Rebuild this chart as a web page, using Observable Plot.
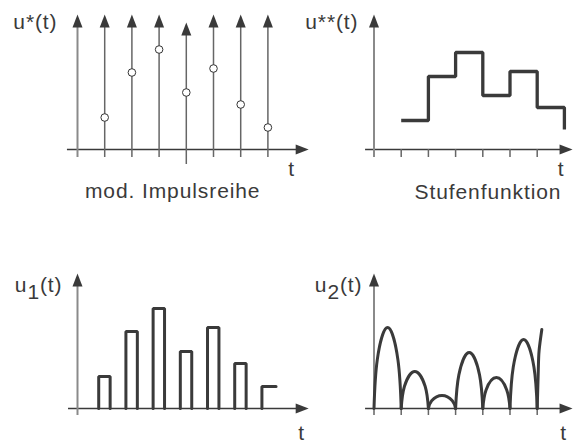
<!DOCTYPE html>
<html><head><meta charset="utf-8">
<script src="https://cdn.jsdelivr.net/npm/d3@7"></script>
<script src="https://cdn.jsdelivr.net/npm/@observablehq/plot@0.6"></script>
<style>
html,body{margin:0;padding:0;background:#fff;}
#chart{position:relative;width:574px;height:443px;overflow:hidden;background:#fff;}
#chart svg{position:absolute;left:0;top:0;}
</style></head><body><div id="chart"></div>
<script>
// ---------- data ----------
const sampleTimes  = [1, 2, 3, 4, 5, 6, 7];
const sampleValues = [32, 77, 100, 57, 81, 45, 22];   // u*(t) circles, u1(t) pulse heights
const holdValues   = [29, 73, 97, 54, 78, 42, 20];    // u**(t) step function
const tickTimes    = [1, 2, 3, 4, 5, 6];
const archStarts   = [0, 1, 2, 3, 4, 5];
const archPeaks    = [81, 37, 13, 56, 31, 69];         // u2(t) arch heights
const lastArchT    = [6, 6.04, 6.07, 6.17];
const lastArchV    = [0, 38, 58, 79];
const yLabels      = ["u*(t)", "u**(t)", "u1(t)", "u2(t)"];
const captions     = ["mod. Impulsreihe", "Stufenfunktion"];
const axisLabel    = "t";
const shiftedImpulse = 4;

// ---------- constants ----------
const P = 27.2, yTop = 135;
const dark = "#3a3a3a", grey = "#8a8a8a", mid = "#666";
const font = "Liberation Sans, Arial, Helvetica, sans-serif";
const upHead = {draw(c){ c.moveTo(0,0); c.lineTo(5,13); c.lineTo(-5,13); c.closePath(); }};
const rightHead = {draw(c){ c.moveTo(0,0); c.lineTo(-13,-5); c.lineTo(-13,5); c.closePath(); }};

const samples = sampleTimes.map((t,i)=>({t, v: sampleValues[i]}));
const holds = sampleTimes.map((t,i)=>({t, v: holdValues[i]}));

function panel(ox, oy, marks) {
  return Plot.plot({
    width: 574, height: 443, margin: 0,
    x: {type: "linear", domain: [0, 1], range: [ox, ox + P], axis: null},
    y: {type: "linear", domain: [0, 100], range: [oy, oy - 100], axis: null},
    style: {background: "transparent", overflow: "visible", letterSpacing: "0.9px"},
    marks
  });
}
function axes(x0, x1, below) {
  return [
    Plot.ruleY([0], {x1: x0, x2: x1 - 0.3, stroke: dark, strokeWidth: 1.5}),
    Plot.dot([0], {x: x1, y: 0, symbol: rightHead, fill: dark, stroke: "none"}),
    Plot.ruleX([0], {y1: -below, y2: yTop - 8, stroke: grey, strokeWidth: 2}),
    Plot.dot([0], {x: 0, y: yTop, symbol: upHead, fill: dark, stroke: "none"})
  ];
}
const txt = (s, o) => Plot.text([s], {text: d => d, fontSize: 21, fontFamily: font, fill: dark, lineAnchor: "bottom", ...o});

// Panel 1: modulated impulse train
const p1 = panel(77, 149, [
  ...axes(-0.37, 8.5, 8),
  Plot.ruleX(samples.filter(d => d.t !== shiftedImpulse), {x: "t", y1: -8, y2: yTop - 8, stroke: mid, strokeWidth: 1.5}),
  Plot.dot(samples.filter(d => d.t !== shiftedImpulse), {x: "t", y: yTop, symbol: upHead, fill: dark, stroke: "none"}),
  Plot.ruleX(samples.filter(d => d.t === shiftedImpulse), {x: "t", y1: -8, y2: yTop - 8, dy: 7, stroke: mid, strokeWidth: 1.5}),
  Plot.dot(samples.filter(d => d.t === shiftedImpulse), {x: "t", y: yTop, dy: 8, symbol: upHead, fill: dark, stroke: "none"}),
  Plot.dot(samples, {x: "t", y: "v", r: 3.8, stroke: "#333", strokeWidth: 1, fill: "white"}),
  txt(yLabels[0], {x: 0, y: yTop, dx: -20, dy: 14, textAnchor: "end"}),
  txt(axisLabel, {x: 8.5, y: 0, dx: -17, dy: 26}),
  txt(captions[0], {x: 3.5, y: 0, dy: 48})
]);

// Panel 2: step function
const p2 = panel(373.5, 149, [
  ...axes(-0.31, 7.3, 8),
  Plot.ruleX(tickTimes, {x: d => d, y1: -8, y2: 0, stroke: mid, strokeWidth: 1.5}),
  Plot.line(holds, {x: "t", y: "v", curve: "step-after", stroke: dark, strokeWidth: 3.3, strokeLinejoin: "miter", strokeLinecap: "butt"}),
  txt(yLabels[1], {x: 0, y: yTop, dx: -15.5, dy: 14, textAnchor: "end"}),
  txt(axisLabel, {x: 7.3, y: 0, dx: -11.5, dy: 26}),
  txt(captions[1], {x: 4.19, y: 0, dy: 49})
]);

// Panel 3: u1(t) pulses
const bars = samples.flatMap((d, i) => {
  const last = i === samples.length - 1;
  const pts = [{x: d.t - 0.22, y: 0}, {x: d.t - 0.22, y: d.v}, {x: d.t + (last ? 0.3 : 0.2), y: d.v}];
  if (!last) pts.push({x: d.t + 0.2, y: 0});
  return pts.map(p => ({...p, k: i}));
});
const p3 = panel(77, 408, [
  ...axes(-0.33, 8.5, 7),
  Plot.line(bars, {x: "x", y: "y", z: "k", stroke: dark, strokeWidth: 3, strokeLinejoin: "miter"}),
  txt(yLabels[2], {x: 0, y: yTop, dx: -15, dy: 18, textAnchor: "end"}),
  txt(axisLabel, {x: 8.5, y: 0, dx: -7, dy: 31})
]);

// Panel 4: u2(t) arches (each arch: base, shoulder, peak, shoulder, base)
const arches = archStarts.flatMap((s, i) => [
  {x: s, y: 0, k: i},
  {x: s + 0.12, y: archPeaks[i] * 0.6, k: i},
  {x: s + 0.5, y: archPeaks[i], k: i},
  {x: s + 0.88, y: archPeaks[i] * 0.6, k: i},
  {x: s + 1, y: 0, k: i}
]).concat(lastArchT.map((t, j) => ({x: t, y: lastArchV[j], k: 99})));
const p4 = panel(373.5, 408, [
  ...axes(-0.31, 7.3, 7),
  Plot.ruleX(tickTimes, {x: d => d, y1: -7, y2: 0, stroke: mid, strokeWidth: 1.5}),
  Plot.line(arches, {x: "x", y: "y", z: "k", curve: "natural", stroke: dark, strokeWidth: 3}),
  txt(yLabels[3], {x: 0, y: yTop, dx: -11.5, dy: 18, textAnchor: "end"}),
  txt(axisLabel, {x: 7.3, y: 0, dx: -9, dy: 31})
]);

const chart = document.getElementById("chart");
[p1, p2, p3, p4].forEach(p => chart.appendChild(p));

// subscripts for u1(t), u2(t)
d3.select(chart).selectAll("text").each(function() {
  const m = /^u([12])\(t\)$/.exec(this.textContent);
  if (!m) return;
  const el = d3.select(this);
  el.text("u");
  el.append("tspan").attr("dy", "0.35em").text(m[1]);
  el.append("tspan").attr("dy", "-0.35em").text("(t)");
});
</script>
</body></html>
